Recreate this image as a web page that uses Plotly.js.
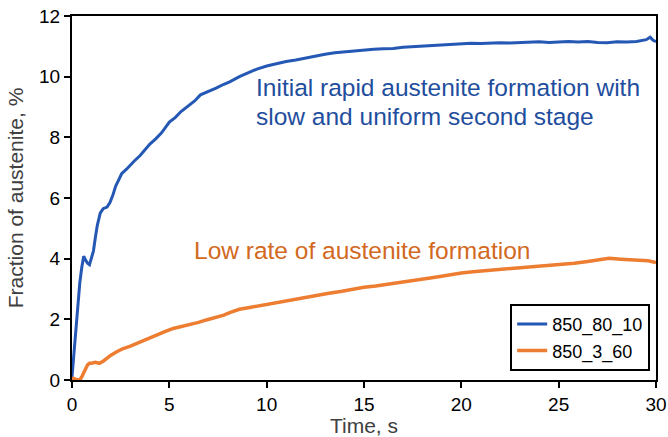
<!DOCTYPE html>
<html>
<head>
<meta charset="utf-8">
<script src="https://cdn.plot.ly/plotly-3.0.1.min.js"></script>
<style>html,body{margin:0;padding:0;background:#fff;}#chart{width:668px;height:437px;}</style>
</head>
<body>
<div id="chart"></div>
<script>
// Series 850_80_10 (time, s / fraction of austenite, %)
const timeA = [0, 0.1, 0.2, 0.3, 0.4, 0.5, 0.6, 0.7, 0.8, 0.9, 1.0, 1.1, 1.2, 1.3, 1.45, 1.6, 1.8, 1.95, 2.1, 2.25, 2.4, 2.55, 2.8, 3.0, 3.2, 3.5, 3.8, 4.0, 4.3, 4.6, 5.0, 5.3, 5.6, 6.0, 6.3, 6.6, 7.0, 7.4, 7.8, 8.1, 8.6, 9.0, 9.5, 10.0, 10.5, 11.0, 11.5, 12.0, 12.5, 13.0, 13.5, 14.0, 14.5, 15.0, 15.5, 16.0, 16.5, 17.0, 17.5, 18.0, 18.5, 19.0, 19.5, 20.0, 20.5, 21.0, 21.5, 22.0, 22.5, 23.0, 23.5, 24.0, 24.5, 25.0, 25.5, 26.0, 26.5, 27.0, 27.5, 28.0, 28.5, 29.0, 29.3, 29.5, 29.7, 29.85, 30.0];
const fracA = [0.1, 0.9, 1.7, 2.5, 3.2, 3.7, 4.08, 3.95, 3.85, 3.8, 4.0, 4.25, 4.7, 5.1, 5.5, 5.65, 5.7, 5.85, 6.1, 6.4, 6.6, 6.8, 6.95, 7.1, 7.22, 7.4, 7.62, 7.78, 7.95, 8.15, 8.5, 8.65, 8.85, 9.05, 9.2, 9.4, 9.5, 9.62, 9.75, 9.83, 10.0, 10.12, 10.25, 10.35, 10.43, 10.5, 10.55, 10.62, 10.68, 10.74, 10.79, 10.82, 10.86, 10.88, 10.9, 10.92, 10.93, 10.97, 10.99, 11.0, 11.03, 11.04, 11.06, 11.08, 11.1, 11.09, 11.11, 11.12, 11.11, 11.13, 11.14, 11.15, 11.13, 11.15, 11.16, 11.14, 11.16, 11.13, 11.12, 11.15, 11.14, 11.16, 11.2, 11.22, 11.3, 11.2, 11.15];

// Series 850_3_60
const timeB = [0, 0.1, 0.2, 0.3, 0.4, 0.5, 0.6, 0.7, 0.8, 0.9, 1.0, 1.2, 1.4, 1.6, 1.8, 2.0, 2.3, 2.6, 3.0, 3.5, 4.0, 4.35, 4.8, 5.2, 5.6, 6.06, 6.5, 6.9, 7.3, 7.8, 8.1, 8.6, 9.2, 9.8, 10.5, 11.0, 11.5, 12.0, 12.5, 13.2, 13.8, 14.4, 15.0, 15.6, 16.2, 16.7, 17.3, 17.8, 18.4, 18.9, 19.5, 20.0, 20.6, 21.2, 21.8, 22.3, 22.9, 23.5, 24.0, 24.6, 25.2, 25.8, 26.4, 27.0, 27.6, 28.2, 28.8, 29.2, 29.6, 30.0];
const fracB = [0.05, 0.05, 0.02, 0.0, 0.0, 0.1, 0.25, 0.4, 0.5, 0.55, 0.55, 0.58, 0.55, 0.62, 0.72, 0.82, 0.93, 1.03, 1.12, 1.26, 1.38, 1.48, 1.6, 1.7, 1.76, 1.82, 1.9, 1.98, 2.05, 2.14, 2.22, 2.33, 2.4, 2.47, 2.57, 2.62, 2.69, 2.74, 2.8, 2.86, 2.92, 2.99, 3.06, 3.1, 3.15, 3.2, 3.25, 3.3, 3.36, 3.41, 3.48, 3.53, 3.57, 3.6, 3.65, 3.68, 3.7, 3.72, 3.74, 3.78, 3.82, 3.85, 3.9, 3.95, 4.01, 3.98, 3.97, 3.96, 3.93, 3.87];

const seriesNames = ['850_80_10', '850_3_60'];
const xTicks = [0, 5, 10, 15, 20, 25, 30];
const yTicks = [0, 2, 4, 6, 8, 10, 12];
const noteA1 = 'Initial rapid austenite formation with';
const noteA2 = 'slow and uniform second stage';
const noteB = 'Low rate of austenite formation';

const FONT = 'Liberation Sans, Arial, sans-serif';

const traces = [
  {x: timeA, y: fracA, name: seriesNames[0], type: 'scatter', mode: 'lines',
   line: {color: '#2458B4', width: 3}},
  {x: timeB, y: fracB, name: seriesNames[1], type: 'scatter', mode: 'lines',
   line: {color: '#ED7D31', width: 3.5}}
];

const axisCommon = {
  showgrid: false, zeroline: false, showline: true, linecolor: '#000', linewidth: 2,
  mirror: true, ticks: 'outside', ticklen: 6, tickwidth: 2, tickcolor: '#000',
  tickfont: {family: FONT, size: 19, color: '#000'}
};

const layout = {
  width: 668, height: 437,
  margin: {l: 72, r: 12, t: 16, b: 57},
  paper_bgcolor: '#fff', plot_bgcolor: '#fff',
  font: {family: FONT},
  showlegend: true,
  legend: {
    x: 0.99, xanchor: 'right', y: 0.025, yanchor: 'bottom',
    bordercolor: '#000', borderwidth: 2, bgcolor: '#fff',
    font: {family: FONT, size: 18, color: '#000'}
  },
  xaxis: Object.assign({}, axisCommon, {
    range: [0, 30], tickvals: xTicks,
    title: {text: 'Time, s', font: {family: FONT, size: 21, color: '#404040'}, standoff: 0}
  }),
  yaxis: Object.assign({}, axisCommon, {
    range: [0, 12], tickvals: yTicks,
    title: {text: 'Fraction of austenite, %', font: {family: FONT, size: 21, color: '#404040'}, standoff: 10}
  }),
  annotations: [
    {x: 9.35, y: 9.63, xref: 'x', yref: 'y', xanchor: 'left', yanchor: 'middle', showarrow: false,
     text: noteA1, font: {family: FONT, size: 24.5, color: '#1F4E9E'}},
    {x: 9.35, y: 8.68, xref: 'x', yref: 'y', xanchor: 'left', yanchor: 'middle', showarrow: false,
     text: noteA2, font: {family: FONT, size: 24.5, color: '#1F4E9E'}},
    {x: 6.15, y: 4.27, xref: 'x', yref: 'y', xanchor: 'left', yanchor: 'middle', showarrow: false,
     text: noteB, font: {family: FONT, size: 24.5, color: '#D2691E'}}
  ]
};

Plotly.newPlot('chart', traces, layout, {displayModeBar: false, staticPlot: true});
</script>
</body>
</html>
